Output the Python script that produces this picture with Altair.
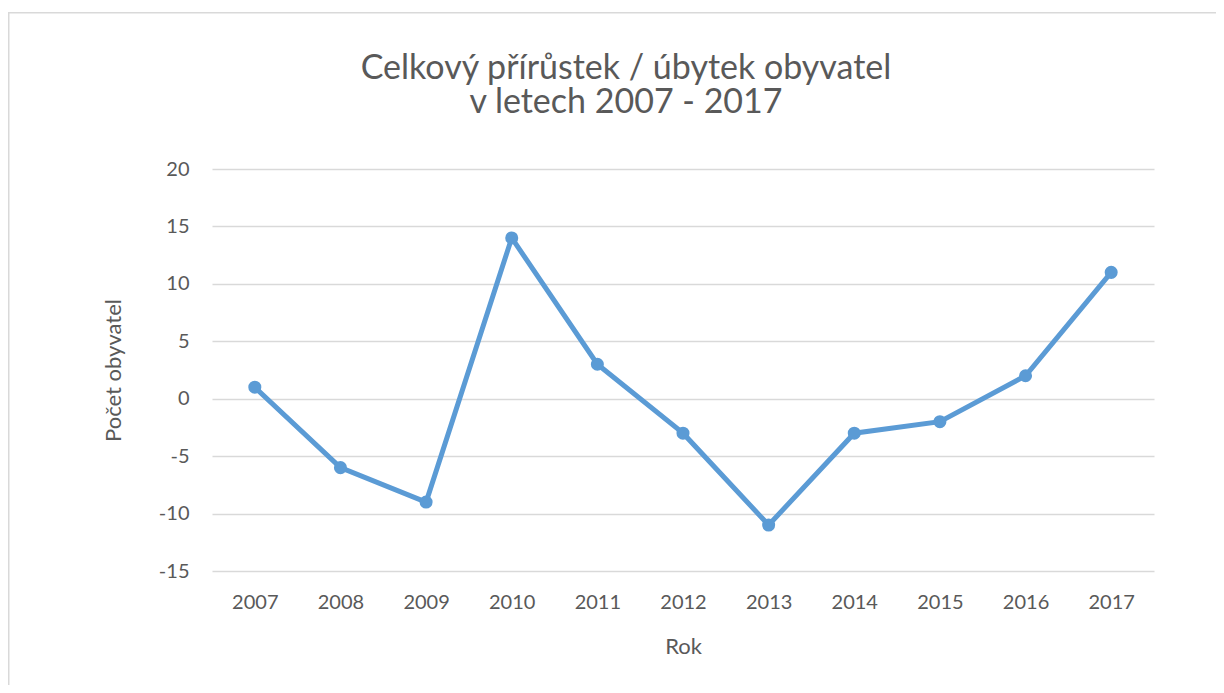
import altair as alt
import pandas as pd

years = ["2007", "2008", "2009", "2010", "2011", "2012", "2013", "2014", "2015", "2016", "2017"]
values = [1, -6, -9, 14, 3, -3, -11, -3, -2, 2, 11]

df = pd.DataFrame({"Rok": years, "Počet obyvatel": values})

W, H = 942, 402
FONT = "Lato"
TXT = "#595959"
BLUE = "#5B9BD5"

frame = alt.Chart(pd.DataFrame({"a": [0]})).mark_rect(
    fill="white", fillOpacity=0, stroke="#D9D9D9", strokeWidth=1.5
).encode(
    x=alt.value(-203.25), x2=alt.value(W + 200),
    y=alt.value(-156.25), y2=alt.value(H + 200),
)

base = alt.Chart(df).encode(
    x=alt.X("Rok:O", sort=years,
            scale=alt.Scale(type="point", padding=0.5),
            axis=alt.Axis(title="Rok", labelAngle=0, ticks=False, domain=False, grid=False,
                          labelPadding=21, labelFontSize=20, labelColor=TXT, labelFont=FONT,
                          titleFontSize=22, titleColor=TXT, titleFont=FONT, titleFontWeight="normal",
                          titleX=W / 2, titleY=82, titleBaseline="alphabetic", titleAlign="center")),
    y=alt.Y("Počet obyvatel:Q",
            scale=alt.Scale(domain=[-15, 20], nice=False, zero=False),
            axis=alt.Axis(title="Počet obyvatel", values=[-15, -10, -5, 0, 5, 10, 15, 20],
                          labelExpr="toString(datum.value)",
                          ticks=False, domain=False, grid=True, gridColor="#D9D9D9", gridWidth=1.5,
                          labelPadding=23, labelFontSize=20, labelColor=TXT, labelFont=FONT,
                          titleFontSize=22, titleColor=TXT, titleFont=FONT, titleFontWeight="normal",
                          titleAngle=-90, titleX=-92, titleY=H / 2, titleBaseline="alphabetic",
                          titleAlign="center")),
)

line = base.mark_line(color=BLUE, strokeWidth=5)
pts = base.mark_circle(color=BLUE, size=170, opacity=1)

chart = alt.layer(frame, line, pts).properties(
    width=W, height=H,
    background="white",
    title=alt.TitleParams(
        text=["Celkový přírůstek / úbytek obyvatel", "v letech 2007 - 2017"],
        font=FONT, fontSize=34, fontWeight="normal", color=TXT, lineHeight=34,
        anchor="middle", dx=-57, offset=30, dy=138,
    ),
    autosize=alt.AutoSizeParams(type="none"),
    padding={"left": 204, "top": 161, "right": 62, "bottom": 114},
).configure_view(strokeWidth=0, stroke="transparent")

chart.save("out.html", embed_options={"renderer": "svg", "actions": False})
